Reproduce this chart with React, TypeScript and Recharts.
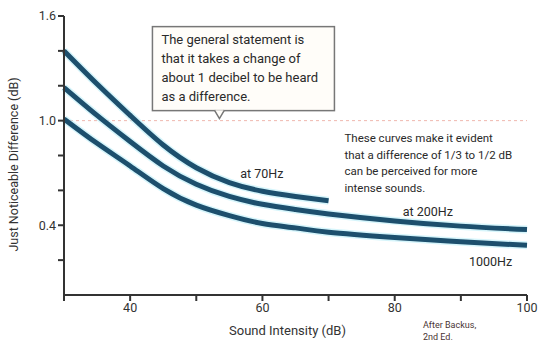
import React from "react";
import { LineChart, Line, XAxis, YAxis, ReferenceLine, ReferenceDot } from "recharts";

// sound intensity in dB
const intensity = [30, 35, 40, 45, 50, 55, 60, 65, 70, 80, 90, 100];
// just noticeable difference in dB, one list per tone frequency
const jnd70 = [1.4, 1.21, 1.03, 0.86, 0.73, 0.645, 0.595, 0.565, 0.54, null, null, null];
const jnd200 = [1.19, 1.03, 0.88, 0.74, 0.635, 0.565, 0.52, 0.49, 0.465, 0.425, 0.395, 0.375];
const jnd1000 = [1.01, 0.87, 0.74, 0.61, 0.515, 0.455, 0.41, 0.385, 0.36, 0.33, 0.305, 0.285];

const xTicks = [30, 40, 50, 60, 70, 80, 90, 100];
const xLabelled = [40, 60, 80, 100];
const yTicks = [0.2, 0.4, 0.6, 0.8, 1.0, 1.2, 1.4, 1.6];
const yLabelled = [0.4, 1.0, 1.6];

const boxLines = [
  "The general statement is",
  "that it takes a change of",
  "about 1 decibel to be heard",
  "as a difference.",
];
const noteLines = [
  "These curves make it evident",
  "that a difference of 1/3 to 1/2 dB",
  "can be perceived for more",
  "intense sounds.",
];

const data = intensity.map((x, i) => ({
  x,
  f70: jnd70[i],
  f200: jnd200[i],
  f1000: jnd1000[i],
}));

const FONT = "Roboto, 'Noto Sans', sans-serif";
const INK = "#333";
const CURVE = "#1d4f6d";
const GLOW = "#b5ecf8";

// callout box with a pointer whose tip sits on (cx, cy)
const Callout = ({ cx, cy }: { cx?: number; cy?: number }) => {
  if (cx == null || cy == null) return null;
  const left = cx - 67;
  const top = cy - 94;
  const w = 182;
  const h = 84;
  const bottom = top + h;
  return (
    <g>
      <rect x={left} y={top} width={w} height={h} fill="#fffdf9" stroke="#777" strokeWidth={1.5} />
      <path
        d={`M${cx - 5},${bottom - 0.5} L${cx},${cy - 2} L${cx + 5},${bottom - 0.5}`}
        fill="#fffdf9"
        stroke="#777"
        strokeWidth={1.5}
      />
      {boxLines.map((t, i) => (
        <text key={i} x={left + 9} y={top + 17 + i * 19} fontSize={13} fill="#2a2a2a" fontFamily={FONT}>
          {t}
        </text>
      ))}
    </g>
  );
};

// free text block anchored at its top-left corner
const Note = ({ cx, cy }: { cx?: number; cy?: number }) => {
  if (cx == null || cy == null) return null;
  return (
    <g>
      {noteLines.map((t, i) => (
        <text key={i} x={cx} y={cy + i * 16.5} fontSize={11.5} fill="#2a2a2a" fontFamily={FONT}>
          {t}
        </text>
      ))}
    </g>
  );
};

const curveLabel = (text: string) => (props: any) => {
  const { viewBox } = props;
  if (!viewBox) return null;
  return (
    <text
      x={viewBox.x + (viewBox.width || 0) / 2}
      y={viewBox.y + (viewBox.height || 0) / 2}
      textAnchor="middle"
      dominantBaseline="middle"
      fontSize={12.5}
      fill="#2a2a2a"
      fontFamily={FONT}
    >
      {text}
    </text>
  );
};

const curve = (key: string) => [
  <Line
    key={key + "-glow"}
    dataKey={key}
    type="natural"
    stroke={GLOW}
    strokeWidth={8}
    strokeOpacity={0.55}
    dot={false}
    activeDot={false}
    connectNulls={false}
    isAnimationActive={false}
  />,
  <Line
    key={key}
    dataKey={key}
    type="natural"
    stroke={CURVE}
    strokeWidth={5}
    dot={false}
    activeDot={false}
    connectNulls={false}
    isAnimationActive={false}
  />,
];

export default function App() {
  return (
    <div style={{ position: "absolute", left: 0, top: 0, width: 544, height: 343, background: "#fff" }}>
      <LineChart width={544} height={343} data={data} margin={{ top: 16, right: 17, bottom: 0, left: 0 }}>
        <ReferenceLine y={1.0} stroke="#efb7ae" strokeWidth={1} strokeDasharray="3 3" />
        <XAxis
          dataKey="x"
          type="number"
          domain={[30, 100]}
          ticks={xTicks}
          tickFormatter={(v: number) => (xLabelled.includes(v) ? String(v) : "")}
          height={48}
          tickSize={6}
          stroke={INK}
          strokeWidth={2}
          tick={{ fill: INK, fontSize: 12.5, fontFamily: FONT }}
          label={{
            value: "Sound Intensity (dB)",
            position: "insideBottom",
            offset: 8,
            dx: -8,
            fill: INK,
            fontSize: 13,
            fontFamily: FONT,
          }}
        />
        <YAxis
          type="number"
          domain={[0, 1.6]}
          ticks={yTicks}
          tickFormatter={(v: number) => (yLabelled.some((l) => Math.abs(l - v) < 1e-6) ? v.toFixed(1) : "")}
          width={64}
          tickSize={6}
          stroke={INK}
          strokeWidth={2}
          tick={{ fill: INK, fontSize: 12.5, fontFamily: FONT }}
          label={{
            value: "Just Noticeable Difference (dB)",
            angle: -90,
            position: "insideLeft",
            offset: 14,
            dy: 9,
            fill: INK,
            fontSize: 12.5,
            fontFamily: FONT,
            style: { textAnchor: "middle" },
          }}
        />
        {curve("f70")}
        {curve("f200")}
        {curve("f1000")}
        <ReferenceDot x={53.5} y={1.0} r={0} shape={<Callout />} />
        <ReferenceDot x={72.4} y={0.876} r={0} shape={<Note />} />
        <ReferenceDot x={59.9} y={0.69} r={0} label={curveLabel("at 70Hz")} fill="none" stroke="none" />
        <ReferenceDot x={85} y={0.47} r={0} label={curveLabel("at 200Hz")} fill="none" stroke="none" />
        <ReferenceDot x={94.5} y={0.183} r={0} label={curveLabel("1000Hz")} fill="none" stroke="none" />
      </LineChart>
      <div
        style={{
          position: "absolute",
          left: 423,
          top: 319,
          fontSize: 9,
          lineHeight: "12px",
          color: "#4a3434",
          fontFamily: FONT,
        }}
      >
        After Backus,
        <br />
        2nd Ed.
      </div>
    </div>
  );
}
